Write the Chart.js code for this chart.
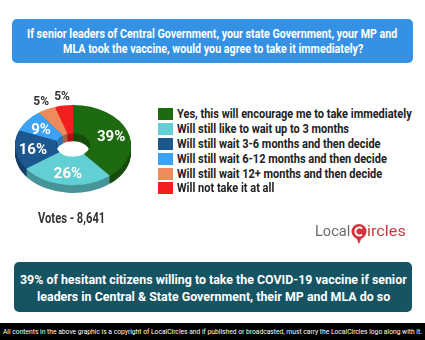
<!DOCTYPE html>
<html>
<head>
<meta charset="utf-8">
<script src="https://cdn.jsdelivr.net/npm/chart.js@4"></script>
<style>
  html, body { margin:0; padding:0; background:#fff; }
  body { width:425px; height:340px; position:relative; overflow:hidden; font-family:Roboto, "Noto Sans", sans-serif; }
  .box { position:absolute; border-radius:5px; }
  .ln { position:absolute; white-space:nowrap; transform-origin:0 50%; font-weight:bold; }
  #pie { position:absolute; left:0; top:80px; }
  .sw { position:absolute; left:158px; width:15px; height:12px; }
</style>
</head>
<body>
<div class="box" style="left:12px;top:19px;width:401px;height:44px;background:#3591e4;"></div>
<div class="box" style="left:14px;top:262px;width:398px;height:50px;background:#165363;"></div>
<div style="position:absolute;left:0;top:323px;width:425px;height:17px;background:#000;"></div>
<canvas id="pie" width="146" height="130"></canvas>
<div id="legend"></div>
<div id="texts"></div>
<svg style="position:absolute;left:349px;top:222px" width="20" height="24" viewBox="0 0 20 24">
  <circle cx="10" cy="9.5" r="7.5" fill="#d1343c"/>
  <path d="M7 15 L10 22 L13 15 Z" fill="#d1343c"/>
  <path d="M13 6.5 A4 4 0 1 0 13 12.5" stroke="#fff" stroke-width="2" fill="none"/>
</svg>
<script>
const categories = [
  'Yes, this will encourage me to take immediately',
  'Will still like to wait up to 3 months',
  'Will still wait 3-6 months and then decide',
  'Will still wait 6-12 months and then decide',
  'Will still wait 12+ months and then decide',
  'Will not take it at all'
];
const shares = [39, 26, 16, 9, 5, 5];
const colors = ['#1e6a10', '#62cfd4', '#1d5790', '#3ca2f4', '#ee8a5c', '#f41e1e'];
const votes = 'Votes - 8,641';
const title = [
  'If senior leaders of Central Government, your state Government, your MP and',
  'MLA took the vaccine, would you agree to take it immediately?'
];
const takeaway = [
  '39% of hesitant citizens willing to take the COVID-19 vaccine if senior',
  'leaders in Central & State Government, their MP and MLA do so'
];
const footer = 'All contents in the above graphic is a copyright of LocalCircles and if published or broadcasted, must carry the LocalCircles logo along with it.';

const tilt = 0.69, depth = 8;

function shade(hex, f) {
  const n = parseInt(hex.slice(1), 16);
  const r = Math.round(((n >> 16) & 255) * f), g = Math.round(((n >> 8) & 255) * f), b = Math.round((n & 255) * f);
  return `rgb(${r},${g},${b})`;
}

function arcPath(ctx, p) {
  ctx.beginPath();
  ctx.arc(p.x, p.y, p.outerRadius, p.startAngle, p.endAngle);
  ctx.arc(p.x, p.y, p.innerRadius, p.endAngle, p.startAngle, true);
  ctx.closePath();
}

// tilted 3d look: squash the doughnut and stack darker copies below it
const pie3d = {
  id: 'pie3d',
  beforeDatasetsDraw(chart) {
    const ctx = chart.ctx, meta = chart.getDatasetMeta(0);
    const a = chart.chartArea;
    const cx = (a.left + a.right) / 2, cy = (a.top + a.bottom) / 2;
    for (let d = depth; d > 0; d--) {
      ctx.save();
      ctx.translate(cx, cy + d); ctx.scale(1, tilt); ctx.translate(-cx, -cy);
      meta.data.forEach((arc, i) => {
        const p = arc.getProps(['x', 'y', 'startAngle', 'endAngle', 'innerRadius', 'outerRadius'], true);
        ctx.fillStyle = shade(colors[i], 0.72);
        arcPath(ctx, p);
        ctx.fill();
      });
      ctx.restore();
    }
    ctx.save();
    ctx.translate(cx, cy); ctx.scale(1, tilt); ctx.translate(-cx, -cy);
  },
  afterDatasetsDraw(chart) {
    const ctx = chart.ctx;
    ctx.restore();
    const meta = chart.getDatasetMeta(0);
    ctx.save();
    ctx.textAlign = 'center';
    ctx.textBaseline = 'middle';
    meta.data.forEach((arc, i) => {
      const p = arc.getProps(['x', 'y', 'startAngle', 'endAngle', 'innerRadius', 'outerRadius'], true);
      const mid = (p.startAngle + p.endAngle) / 2;
      const small = shares[i] <= 5;
      const r = small ? p.outerRadius + 12 : (p.innerRadius + p.outerRadius) / 2 + 3;
      const x = p.x + Math.cos(mid) * r;
      const y = p.y + Math.sin(mid) * r * tilt + (small ? 0 : 2);
      ctx.font = small ? 'bold 12px Roboto' : 'bold 15px Roboto';
      ctx.fillStyle = small ? '#333' : '#fff';
      ctx.fillText(shares[i] + '%', x, y);
    });
    ctx.restore();
  }
};

new Chart(document.getElementById('pie'), {
  type: 'doughnut',
  data: {
    labels: categories,
    datasets: [{ data: shares, backgroundColor: colors, borderWidth: 0, clip: false }]
  },
  options: {
    responsive: false,
    animation: false,
    radius: 58,
    cutout: 19,
    layout: { padding: 0 },
    plugins: { legend: { display: false }, tooltip: { enabled: false } }
  },
  plugins: [pie3d]
});

// text lines, squeezed to the width they take in the graphic
const holder = document.getElementById('texts');
const fits = [];
function line(txt, left, cy, size, color, width, weight) {
  const s = document.createElement('span');
  s.className = 'ln';
  s.textContent = txt;
  s.style.left = left + 'px';
  s.style.top = (cy - size * 0.6) + 'px';
  s.style.fontSize = size + 'px';
  s.style.lineHeight = (size * 1.2) + 'px';
  s.style.color = color;
  if (weight) s.style.fontWeight = weight;
  holder.appendChild(s);
  fits.push([s, width]);
  return s;
}
line(title[0], 27, 34, 12, '#fff', 370);
line(title[1], 63, 49, 12, '#fff', 300);
line(takeaway[0], 20, 279, 13.5, '#fff', 387);
line(takeaway[1], 37, 296, 13.5, '#fff', 353);
line(votes, 38, 218, 15, '#333', 67);
line(footer, 3, 332, 8, '#fff', 419, 'normal');
line('Local', 315, 231, 15, '#6a6a6a', 35, 'normal');
line('ircles', 367, 231, 15, '#c8383f', 39, 'normal');

const legendRows = [114, 129, 144, 159, 173.5, 188];
const leg = document.getElementById('legend');
const legSpans = categories.map((c, i) => {
  const sw = document.createElement('div');
  sw.className = 'sw';
  sw.style.top = (legendRows[i] - 6) + 'px';
  sw.style.background = colors[i];
  leg.appendChild(sw);
  const s = line(c, 177, legendRows[i], 13, '#222', null);
  return s;
});

function fit() {
  fits.forEach(([s, w]) => {
    if (w) s.style.transform = `scaleX(${w / s.offsetWidth})`;
  });
  const k = 235 / legSpans[0].offsetWidth;
  legSpans.forEach(s => s.style.transform = `scaleX(${k})`);
}
fit();
document.fonts.ready.then(fit);
</script>
</body>
</html>
